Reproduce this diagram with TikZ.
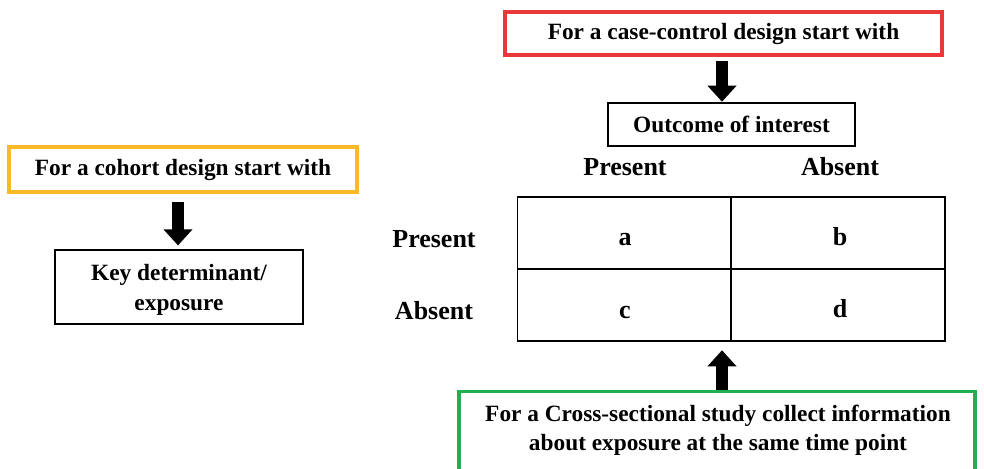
\documentclass[tikz,border=0pt]{standalone}
\usepackage{fontspec}
\setmainfont{Liberation Serif}
\usetikzlibrary{arrows.meta}
\definecolor{redc}{RGB}{232,56,56}
\definecolor{yelc}{RGB}{250,185,40}
\definecolor{grnc}{RGB}{34,175,80}
\tikzset{
  txt/.style={font=\fontsize{19.5}{22}\selectfont\bfseries, align=center, inner sep=0pt},
  colbox/.style={draw=#1, line width=2.6pt, font=\fontsize{17.5}{21}\selectfont\bfseries, align=center, inner sep=0pt},
  blkbox/.style={draw=black, line width=0.9pt, font=\fontsize{17.5}{21}\selectfont\bfseries, align=center, inner sep=0pt},
  cell/.style={draw=black, line width=0.9pt, inner sep=0pt, minimum width=160.5pt, minimum height=54pt},
  bigarrow/.style={line width=9pt, -{Triangle[width=21pt,length=12pt]}}
}
\begin{document}
\begin{tikzpicture}[x=0.75pt,y=-0.75pt]
\useasboundingbox (0,0) rectangle (984,468);
\clip (0,0) rectangle (984,468);
% case-control
\node[colbox=redc, minimum width=327.75pt, minimum height=32.25pt] (cc) at (723.5,33.5) {For a case-control design start with};
\node[blkbox, minimum width=185.25pt, minimum height=32.25pt] (out) at (731.5,124.5) {Outcome of interest};
\coordinate (ax1) at (722,0);
\draw[bigarrow, shorten <=3.5pt, shorten >=0.5pt] (cc.south -| ax1) -- (out.north -| ax1);
% column headers
\node[txt] (hp) at (625,167) {Present};
\node[txt] (ha) at (840,167) {Absent};
% table
\node[cell] (ta) at (624.5,233) {};
\node[cell] (tb) at (838,233) {};
\node[cell] (tc) at (624.5,305) {};
\node[cell] (td) at (838,305) {};
\node[txt] (la) at (625,240) {a};
\node[txt] (lb) at (840,237) {b};
\node[txt] (lc) at (625,312) {c};
\node[txt] (ld) at (840,309) {d};
% row labels
\node[txt] (rp) at (434,239) {Present};
\node[txt] (ra) at (434,311) {Absent};
% cohort
\node[colbox=yelc, minimum width=261pt, minimum height=33.75pt] (co) at (183,169.5) {For a cohort design start with};
\node[blkbox, minimum width=186pt, minimum height=55.5pt] (key) at (179,287) {};
\node[inner sep=0pt, align=center, font=\fontsize{17.5}{22.5}\selectfont\bfseries] (keyt) at (179,290) {Key determinant/\\exposure};
\coordinate (ax2) at (178,0);
\draw[bigarrow, shorten <=6pt, shorten >=3pt] (co.south -| ax2) -- (key.north -| ax2);
% cross-sectional
\node[colbox=grnc, minimum width=387pt, minimum height=61.5pt, anchor=north] (cs) at (717,390) {};
\node[inner sep=0pt, align=center, font=\fontsize{17.5}{21.75}\selectfont\bfseries] (cst) at (718,430) {For a Cross-sectional study collect information\\about exposure at the same time point};
\draw[bigarrow, shorten >=6.5pt] (cs.north -| ax1) -- (tc.south -| ax1);
\end{tikzpicture}
\end{document}
